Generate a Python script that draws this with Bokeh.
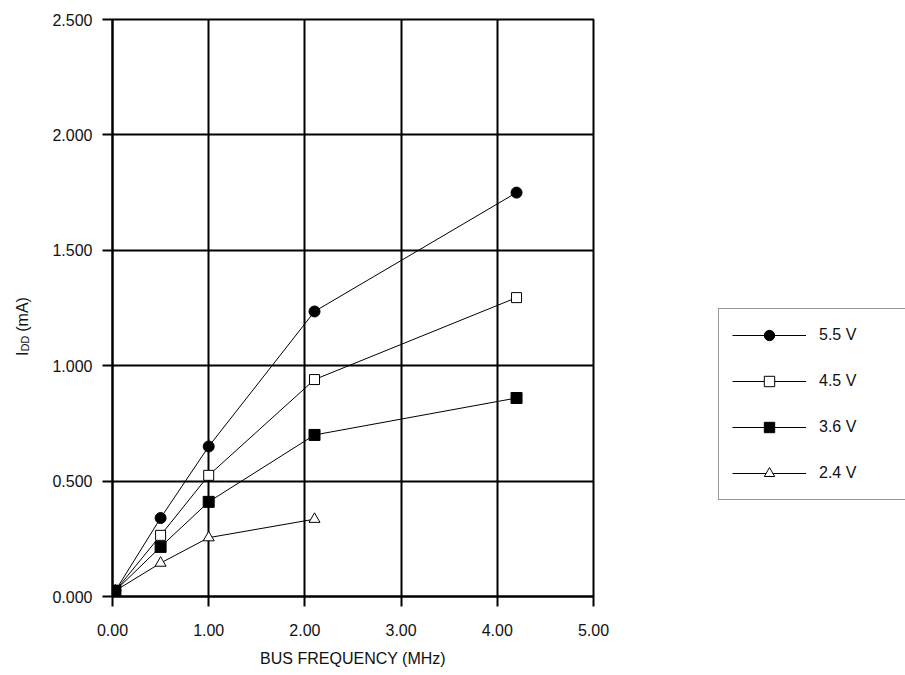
from bokeh.plotting import figure
from bokeh.layouts import row
from bokeh.models import (Range1d, FixedTicker, PrintfTickFormatter, Legend,
                          LegendItem, Label)
from bokeh.embed import file_html
from bokeh.resources import INLINE
import math

# ---- data ----
freq_mhz = [0.03, 0.5, 1.0, 2.1, 4.2]
freq_mhz_24 = [0.03, 0.5, 1.0, 2.1]
idd_55 = [0.025, 0.34, 0.65, 1.235, 1.75]
idd_45 = [0.025, 0.265, 0.525, 0.94, 1.295]
idd_36 = [0.025, 0.215, 0.41, 0.70, 0.86]
idd_24 = [0.025, 0.145, 0.255, 0.335]
series_labels = ["5.5 V", "4.5 V", "3.6 V", "2.4 V"]
x_ticks = [0, 1, 2, 3, 4, 5]
y_ticks = [0, 0.5, 1.0, 1.5, 2.0, 2.5]

FONT = "Liberation Sans"
FS = "16px"
TXT = "#111111"
H = 675
TOP = 19
BOTTOM = 79

yrange = Range1d(0, 2.5)

# ---------------- main chart ----------------
p = figure(width=660, height=H, output_backend="svg", toolbar_location=None,
           x_range=Range1d(0, 5), y_range=yrange,
           min_border_left=72, min_border_right=107,
           min_border_top=TOP, min_border_bottom=BOTTOM)
p.background_fill_color = "white"
p.border_fill_color = "white"
p.outline_line_color = "black"
p.outline_line_width = 2

for ax in (p.xaxis[0], p.yaxis[0]):
    ax.axis_line_color = "black"
    ax.axis_line_width = 2
    ax.major_tick_line_color = "black"
    ax.major_tick_line_width = 2
    ax.major_tick_in = 0
    ax.major_tick_out = 10
    ax.minor_tick_line_color = None
    ax.major_label_text_font = FONT
    ax.major_label_text_font_size = FS
    ax.major_label_text_color = TXT

p.xaxis.ticker = FixedTicker(ticks=x_ticks)
p.yaxis.ticker = FixedTicker(ticks=y_ticks)
p.xaxis.formatter = PrintfTickFormatter(format="%.2f")
p.yaxis.formatter = PrintfTickFormatter(format="%.3f")
p.xaxis.major_label_standoff = 17
p.yaxis.major_label_standoff = 10

p.xaxis.axis_label = "BUS FREQUENCY (MHz)"
p.xaxis.axis_label_text_font = FONT
p.xaxis.axis_label_text_font_size = FS
p.xaxis.axis_label_text_font_style = "normal"
p.xaxis.axis_label_text_color = TXT
p.xaxis.axis_label_standoff = 11

p.xgrid.ticker = FixedTicker(ticks=x_ticks)
p.ygrid.ticker = FixedTicker(ticks=y_ticks)
for g in (p.xgrid[0], p.ygrid[0]):
    g.grid_line_color = "black"
    g.grid_line_width = 2
    g.grid_line_alpha = 1.0


def draw_series(fig):
    r = {}
    r["l55"] = fig.line(freq_mhz, idd_55, line_color="black", line_width=1)
    r["l45"] = fig.line(freq_mhz, idd_45, line_color="black", line_width=1)
    r["l36"] = fig.line(freq_mhz, idd_36, line_color="black", line_width=1)
    r["l24"] = fig.line(freq_mhz_24, idd_24, line_color="black", line_width=1)
    r["s55"] = fig.scatter(freq_mhz, idd_55, marker="circle", size=11,
                           fill_color="black", line_color="black")
    r["s45"] = fig.scatter(freq_mhz, idd_45, marker="square", size=10,
                           fill_color="white", line_color="black", line_width=1)
    r["s24"] = fig.scatter(freq_mhz_24, idd_24, marker="triangle", size=11,
                           fill_color="white", line_color="black", line_width=1)
    r["s36"] = fig.scatter(freq_mhz, idd_36, marker="square", size=11,
                           fill_color="black", line_color="black")
    return r


draw_series(p)

# ---------------- y-axis title panel (shares the y scale) ----------------
yl = figure(width=40, height=H, output_backend="svg", toolbar_location=None,
            x_range=Range1d(0, 40), y_range=yrange,
            x_axis_location=None, y_axis_location=None,
            min_border_left=0, min_border_right=0,
            min_border_top=TOP, min_border_bottom=BOTTOM)
yl.grid.visible = False
yl.outline_line_color = None
yl.background_fill_color = "white"
yl.border_fill_color = "white"
yl.add_layout(Label(x=22, y=1.042, text="I", angle=math.pi / 2,
                    text_font=FONT, text_font_size=FS, text_color=TXT,
                    text_align="left", text_baseline="alphabetic"))
yl.add_layout(Label(x=24, y=1.061, text="DD", angle=math.pi / 2,
                    text_font=FONT, text_font_size="11px", text_color=TXT,
                    text_align="left", text_baseline="alphabetic"))
yl.add_layout(Label(x=22, y=1.147, text="(mA)", angle=math.pi / 2,
                    text_font=FONT, text_font_size=FS, text_color=TXT,
                    text_align="left", text_baseline="alphabetic"))

# ---------------- legend panel ----------------
lg = figure(width=205, height=H, output_backend="svg", toolbar_location=None,
            x_range=Range1d(100, 101), y_range=Range1d(100, 101),
            x_axis_location=None, y_axis_location=None,
            min_border_left=0, min_border_right=0,
            min_border_top=TOP, min_border_bottom=BOTTOM)
lg.grid.visible = False
lg.outline_line_color = None
lg.background_fill_color = "white"
lg.border_fill_color = "white"
r = draw_series(lg)  # drawn out of view; only feeds the legend glyphs

items = [LegendItem(label=series_labels[0], renderers=[r["l55"], r["s55"]]),
         LegendItem(label=series_labels[1], renderers=[r["l45"], r["s45"]]),
         LegendItem(label=series_labels[2], renderers=[r["l36"], r["s36"]]),
         LegendItem(label=series_labels[3], renderers=[r["l24"], r["s24"]])]
legend = Legend(items=items, location=(18, 596 - 500), orientation="vertical",
                padding=13, spacing=20, glyph_height=26, glyph_width=74,
                label_height=26, label_width=200, label_standoff=13,
                margin=0, border_line_color="#333333", border_line_width=1,
                background_fill_color="white", background_fill_alpha=1.0,
                label_text_font=FONT, label_text_font_size=FS,
                label_text_color=TXT)
lg.add_layout(legend, "center")

layout = row(yl, p, lg, spacing=0)
open("out.html", "w").write(file_html(layout, INLINE))
